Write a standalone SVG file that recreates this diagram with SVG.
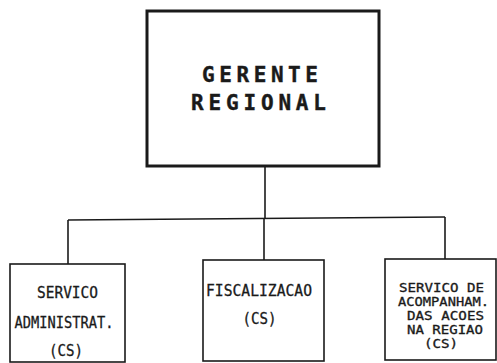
<svg xmlns="http://www.w3.org/2000/svg" width="497" height="363" viewBox="0 0 497 363">
<style>
.bg{fill:#ffffff}
.main{fill:none;stroke:#1a1a1a;stroke-width:3}
.box{fill:none;stroke:#1a1a1a;stroke-width:1.6}
.conn{fill:none;stroke:#1a1a1a;stroke-width:1.6}
.title{font-family:"DejaVu Sans Mono","Liberation Mono",monospace;font-weight:bold;font-size:21px;fill:#1a1a1a;stroke:#1a1a1a;stroke-width:0.4;text-anchor:middle}
.lbl{font-family:"DejaVu Sans Mono","Liberation Mono",monospace;font-size:15.5px;fill:#1a1a1a;stroke:#1a1a1a;stroke-width:0.3;text-anchor:middle}
.lbl2{font-family:"DejaVu Sans Mono","Liberation Mono",monospace;font-size:12px;fill:#1a1a1a;stroke:#1a1a1a;stroke-width:0.3;text-anchor:middle}
</style>
<rect class="bg" x="0" y="0" width="497" height="363"/>
<g id="connectors">
<line class="conn" x1="265" y1="166" x2="265" y2="219"/>
<line class="conn" x1="68" y1="220" x2="445" y2="217"/>
<line class="conn" x1="68" y1="220" x2="68" y2="264"/>
<line class="conn" x1="264" y1="219" x2="264" y2="260"/>
<line class="conn" x1="445" y1="217" x2="445" y2="259"/>
</g>
<g id="gerente">
<rect class="main" x="147" y="11" width="232" height="155"/>
<text class="title" x="260" y="82" textLength="116" lengthAdjust="spacing">GERENTE</text>
<text class="title" x="258.5" y="110" textLength="135" lengthAdjust="spacing">REGIONAL</text>
</g>
<g id="servico-administrativo">
<rect class="box" x="10" y="264" width="115" height="98"/>
<text class="lbl" x="67.5" y="298" textLength="61" lengthAdjust="spacingAndGlyphs">SERVICO</text>
<text class="lbl" x="64" y="328" textLength="99" lengthAdjust="spacingAndGlyphs">ADMINISTRAT.</text>
<text class="lbl" x="66" y="356" textLength="34" lengthAdjust="spacingAndGlyphs">(CS)</text>
</g>
<g id="fiscalizacao">
<rect class="box" x="203" y="260" width="121" height="101"/>
<text class="lbl" x="259" y="296" textLength="106" lengthAdjust="spacingAndGlyphs">FISCALIZACAO</text>
<text class="lbl" x="259.5" y="324" textLength="34" lengthAdjust="spacingAndGlyphs">(CS)</text>
</g>
<g id="servico-acompanhamento">
<rect class="box" x="385" y="259" width="111" height="101"/>
<text class="lbl2" x="441.5" y="292" textLength="85" lengthAdjust="spacingAndGlyphs">SERVICO DE</text>
<text class="lbl2" x="443.5" y="306" textLength="91" lengthAdjust="spacingAndGlyphs">ACOMPANHAM.</text>
<text class="lbl2" x="445.5" y="320" textLength="77" lengthAdjust="spacingAndGlyphs">DAS ACOES</text>
<text class="lbl2" x="445" y="334" textLength="76" lengthAdjust="spacingAndGlyphs">NA REGIAO</text>
<text class="lbl2" x="441" y="348" textLength="34" lengthAdjust="spacingAndGlyphs">(CS)</text>
</g>
</svg>
